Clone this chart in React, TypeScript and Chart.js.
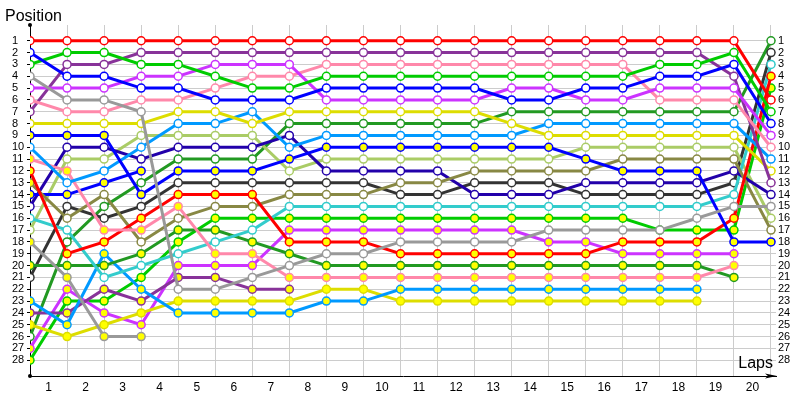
import { useEffect, useRef } from 'react';
import { Chart, registerables } from 'chart.js';

Chart.register(...registerables);

// ---- axis values ----
const lapValues = [0, 1, 2, 3, 4, 5, 6, 7, 8, 9, 10, 11, 12, 13, 14, 15, 16, 17, 18, 19, 20];
const lapLabels = ['', '1', '2', '3', '4', '5', '6', '7', '8', '9', '10', '11', '12', '13', '14', '15', '16', '17', '18', '19', '20'];
const positionTicks = [1, 2, 3, 4, 5, 6, 7, 8, 9, 10, 11, 12, 13, 14, 15, 16, 17, 18, 19, 20, 21, 22, 23, 24, 25, 26, 27, 28];

// ---- positions per lap (lap 0 .. lap 20) ----
const red1 = [1, 1, 1, 1, 1, 1, 1, 1, 1, 1, 1, 1, 1, 1, 1, 1, 1, 1, 1, 1, 6];
const blueA = [2, 4, 4, 5, 5, 6, 6, 6, 5, 5, 5, 5, 5, 6, 6, 5, 5, 4, 4, 3, 8];
const green1 = [3, 2, 2, 3, 3, 4, 5, 5, 4, 4, 4, 4, 4, 4, 4, 4, 4, 3, 3, 2, 7];
const grayA = [4, 6, 6, 7, 22, 22, 21, 20, 19, 19, 18, 18, 18, 18, 17, 17, 17, 17, 16, 15, 15];
const violetA = [5, 5, 5, 4, 4, 3, 3, 3, 6, 6, 6, 6, 6, 5, 5, 6, 6, 5, 5, 5, 9];
const pinkA = [6, 7, 7, 6, 6, 5, 4, 4, 3, 3, 3, 3, 3, 3, 3, 3, 3, 6, 6, 6, 10];
const purpleA = [7, 3, 3, 2, 2, 2, 2, 2, 2, 2, 2, 2, 2, 2, 2, 2, 2, 2, 2, 4, 13];
const yellowA = [8, 8, 8, 8, 7, 7, 8, 7, 7, 7, 7, 7, 7, 8, 9, 9, 9, 9, 9, 9, 12];
const blueB = [9, 9, 9, 14, 12, 12, 12, 11, 10, 10, 10, 10, 10, 10, 10, 11, 12, 12, 12, 18, 18];
const lightblueA = [10, 13, 12, 10, 8, 8, 7, 10, 9, 9, 9, 9, 9, 9, 8, 8, 8, 8, 8, 8, 11];
const pinkB = [11, 12, 17, 17, 15, 19, 19, 21, 21, 21, 21, 21, 21, 21, 21, 21, 21, 21, 21, 20, null];
const redB = [12, 19, 18, 16, 14, 14, 14, 18, 18, 18, 19, 19, 19, 19, 19, 19, 18, 18, 18, 16, 4];
const olive = [13, 16, 14, 18, 16, 15, 15, 14, 14, 14, 13, 13, 12, 12, 12, 12, 11, 11, 11, 11, 17];
const blueC = [14, 14, 13, 12, null, null, null, null, null, null, null, null, null, null, null, null, null, null, null, null, null];
const indigo = [15, 10, 10, 11, 10, 10, 10, 9, 12, 12, 12, 12, 14, 14, 14, 13, 13, 13, 13, 12, 14];
const cyan = [16, 17, 21, 20, 19, 18, 17, 15, 15, 15, 15, 15, 15, 15, 15, 15, 15, 15, 15, 14, 3];
const lightgreen = [17, 11, 11, 9, 9, 9, 9, 12, 11, 11, 11, 11, 11, 11, 11, 10, 10, 10, 10, 10, 16];
const grayB = [18, 21, 26, 26, null, null, null, null, null, null, null, null, null, null, null, null, null, null, null, null, null];
const darkgreenA = [20, 20, 20, 19, 17, 17, 18, 19, 20, 20, 20, 20, 20, 20, 20, 20, 20, 20, 20, 21, null];
const black1 = [21, 15, 16, 15, 13, 13, 13, 13, 13, 13, 14, 14, 13, 13, 13, 14, 14, 14, 14, 13, 2];
const lightblueB = [23, 25, 19, 22, 24, 24, 24, 24, 23, 23, 22, 22, 22, 22, 22, 22, 22, 22, 22, null, null];
const purpleB = [24, 24, 22, 23, 21, 21, 22, 22, null, null, null, null, null, null, null, null, null, null, null, null, null];
const yellowB = [25, 26, 25, 24, 23, 23, 23, 23, 22, 22, 23, 23, 23, 23, 23, 23, 23, 23, 23, null, null];
const darkgreenB = [26, 18, 15, 13, 11, 11, 11, 8, 8, 8, 8, 8, 8, 7, 7, 7, 7, 7, 7, 7, 1];
const violetB = [27, 22, 24, 25, 20, 20, 20, 17, 17, 17, 17, 17, 17, 17, 18, 18, 19, 19, 19, 19, null];
const greenB = [28, 23, 23, 21, 18, 16, 16, 16, 16, 16, 16, 16, 16, 16, 16, 16, 16, 17, 17, 17, 5];

// point fill flags: W = white, Y = yellow (single char = every point)
const oliveFill = 'YWWWWWWWWWWWWWWWWWWWW';

const series: { data: (number | null)[]; color: string; fill: string }[] = [
  { data: red1, color: '#ff0000', fill: 'W' },
  { data: blueA, color: '#0000ff', fill: 'W' },
  { data: green1, color: '#00cc00', fill: 'W' },
  { data: grayA, color: '#999999', fill: 'W' },
  { data: violetA, color: '#cc33ff', fill: 'W' },
  { data: pinkA, color: '#ff88aa', fill: 'W' },
  { data: purpleA, color: '#883399', fill: 'W' },
  { data: yellowA, color: '#dddd00', fill: 'W' },
  { data: blueB, color: '#0000ff', fill: 'Y' },
  { data: lightblueA, color: '#0099ff', fill: 'W' },
  { data: pinkB, color: '#ff88aa', fill: 'Y' },
  { data: redB, color: '#ff0000', fill: 'Y' },
  { data: olive, color: '#888844', fill: oliveFill },
  { data: blueC, color: '#0000ff', fill: 'Y' },
  { data: indigo, color: '#2200aa', fill: 'W' },
  { data: cyan, color: '#33cccc', fill: 'W' },
  { data: lightgreen, color: '#aacc66', fill: 'W' },
  { data: grayB, color: '#999999', fill: 'Y' },
  { data: darkgreenA, color: '#229922', fill: 'Y' },
  { data: black1, color: '#333333', fill: 'W' },
  { data: lightblueB, color: '#0099ff', fill: 'Y' },
  { data: purpleB, color: '#883399', fill: 'Y' },
  { data: yellowB, color: '#dddd00', fill: 'Y' },
  { data: darkgreenB, color: '#229922', fill: 'W' },
  { data: violetB, color: '#cc33ff', fill: 'Y' },
  { data: greenB, color: '#00cc00', fill: 'Y' },
];

const fillAt = (f: string, i: number) => ((f.length > 1 ? f[i] : f) === 'Y' ? '#ffff00' : '#ffffff');

const decorations = {
  id: 'decorations',
  afterDraw(chart: any) {
    const { ctx, chartArea } = chart;
    const { left, top, right, bottom } = chartArea;
    ctx.save();
    ctx.fillStyle = '#000';
    // dots at axis ends
    ctx.beginPath();
    ctx.arc(left, top, 2, 0, Math.PI * 2);
    ctx.fill();
    ctx.beginPath();
    ctx.arc(left, bottom, 2, 0, Math.PI * 2);
    ctx.fill();
    // arrow at the end of the x axis
    ctx.beginPath();
    ctx.moveTo(right + 1, bottom);
    ctx.lineTo(right - 11, bottom - 2.5);
    ctx.lineTo(right - 8, bottom);
    ctx.lineTo(right - 11, bottom + 2.5);
    ctx.closePath();
    ctx.fill();
    // axis titles
    ctx.font = '16px "Liberation Sans", Arial, sans-serif';
    ctx.textBaseline = 'alphabetic';
    ctx.textAlign = 'left';
    ctx.fillText('Position', left - 25, top - 4);
    ctx.textAlign = 'right';
    ctx.fillText('Laps', right - 3, bottom - 8);
    ctx.restore();
  },
};

export default function App() {
  const canvasRef = useRef<HTMLCanvasElement | null>(null);

  useEffect(() => {
    document.body.style.margin = '0';
    const canvas = canvasRef.current;
    if (!canvas) return;

    const datasets = series.map((s) => ({
      data: s.data.map((p, i) => ({ x: lapValues[i], y: p })),
      borderColor: s.color,
      borderWidth: 3,
      pointRadius: 4,
      pointBorderWidth: 1.5,
      pointBorderColor: s.color,
      pointBackgroundColor: s.data.map((_, i) => fillAt(s.fill, i)),
      tension: 0,
      spanGaps: false,
      fill: false,
    }));

    const tickFont = { family: '"Liberation Sans", Arial, sans-serif', size: 11 };

    const chart = new Chart(canvas, {
      type: 'line',
      data: { datasets },
      plugins: [decorations],
      options: {
        animation: false,
        responsive: false,
        layout: { padding: { top: 25, left: 12, right: 0, bottom: 0 }, autoPadding: false },
        plugins: { legend: { display: false }, tooltip: { enabled: false } },
        scales: {
          x: {
            type: 'linear',
            min: 0,
            max: 20.135,
            afterBuildTicks: (s: any) => {
              s.ticks = lapValues.map((v) => ({ value: v }));
            },
            afterFit: (s: any) => {
              s.height = 24;
            },
            grid: { color: '#cccccc', drawTicks: false },
            border: { display: true, color: '#000000', width: 1 },
            ticks: {
              autoSkip: false,
              maxRotation: 0,
              labelOffset: -18.5,
              padding: 4,
              color: '#000000',
              font: { ...tickFont, size: 12 },
              callback: (_v: any, i: number) => lapLabels[i],
            },
          },
          y: {
            type: 'linear',
            position: 'left',
            reverse: true,
            min: -0.33,
            max: 29.33,
            afterBuildTicks: (s: any) => {
              s.ticks = positionTicks.map((v) => ({ value: v }));
            },
            afterFit: (s: any) => {
              s.width = 18;
            },
            grid: { color: '#cccccc', drawTicks: true, tickLength: 3, tickColor: '#000000' },
            border: { display: true, color: '#000000', width: 1 },
            ticks: {
              autoSkip: false,
              crossAlign: 'far',
              padding: 0,
              color: '#000000',
              font: tickFont,
              callback: (v: any) => String(v),
            },
          },
          y2: {
            type: 'linear',
            position: 'right',
            reverse: true,
            min: -0.33,
            max: 29.33,
            afterBuildTicks: (s: any) => {
              s.ticks = positionTicks.map((v) => ({ value: v }));
            },
            afterFit: (s: any) => {
              s.width = 24;
            },
            grid: { display: false, drawTicks: false },
            border: { display: false },
            ticks: {
              autoSkip: false,
              padding: 2,
              color: '#000000',
              font: tickFont,
              callback: (v: any) => String(v),
            },
          },
        },
      } as any,
    });

    return () => {
      chart.destroy();
    };
  }, []);

  return (
    <div style={{ width: 800, height: 400 }}>
      <canvas ref={canvasRef} width={800} height={400} style={{ display: 'block' }} />
    </div>
  );
}
